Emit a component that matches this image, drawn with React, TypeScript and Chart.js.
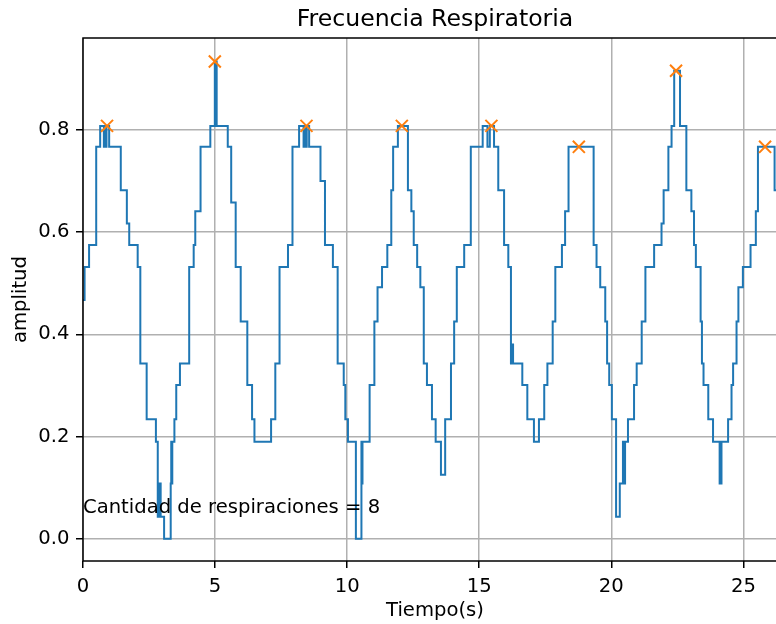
import { useEffect, useRef } from 'react';
import { Chart, registerables } from 'chart.js';

Chart.register(...registerables);

// Señal (tiempo en s, amplitud) — inicio de cada escalón
const tiempo = [
  0.00, 0.06, 0.23, 0.50, 0.65, 0.79, 0.82, 0.87, 0.89, 0.99,
  1.43, 1.66, 1.75, 2.07, 2.17, 2.41, 2.76, 2.83, 2.88, 2.90,
  2.92, 2.94, 3.07, 3.32, 3.34, 3.36, 3.38, 3.46, 3.53, 3.67,
  4.02, 4.19, 4.25, 4.45, 4.82, 4.99, 5.06, 5.48, 5.61, 5.78,
  5.97, 6.22, 6.40, 6.49, 7.12, 7.28, 7.44, 7.76, 7.93, 8.18,
  8.35, 8.39, 8.44, 8.47, 8.56, 8.99, 9.16, 9.46, 9.64, 9.87,
  9.93, 10.03, 10.33, 10.54, 10.56, 10.58, 10.85, 11.03, 11.15, 11.32,
  11.52, 11.67, 11.74, 11.92, 12.30, 12.43, 12.52, 12.65, 12.77, 12.90,
  13.02, 13.21, 13.35, 13.55, 13.71, 13.93, 14.05, 14.15, 14.43, 14.68,
  15.13, 15.31, 15.40, 15.56, 15.72, 15.94, 16.10, 16.20, 16.26, 16.28,
  16.63, 16.82, 17.07, 17.26, 17.46, 17.58, 17.78, 17.88, 18.13, 18.25,
  18.38, 19.33, 19.44, 19.58, 19.77, 19.84, 19.92, 20.02, 20.18, 20.32,
  20.44, 20.46, 20.52, 20.63, 20.86, 20.96, 21.15, 21.29, 21.62, 21.90,
  21.98, 22.16, 22.28, 22.38, 22.60, 22.84, 23.03, 23.13, 23.20, 23.38,
  23.43, 23.49, 23.67, 23.85, 24.10, 24.17, 24.42, 24.55, 24.61, 24.74,
  24.81, 24.98, 25.27, 25.47, 25.55, 26.18, 26.30,
];

const amplitud = [
  0.467, 0.532, 0.575, 0.767, 0.808, 0.767, 0.808, 0.767, 0.808, 0.767,
  0.682, 0.617, 0.575, 0.532, 0.343, 0.234, 0.190, 0.043, 0.108, 0.043,
  0.108, 0.043, 0.000, 0.108, 0.190, 0.108, 0.190, 0.234, 0.301, 0.343,
  0.532, 0.575, 0.641, 0.767, 0.808, 0.934, 0.808, 0.767, 0.658, 0.532,
  0.425, 0.301, 0.234, 0.190, 0.234, 0.343, 0.532, 0.575, 0.767, 0.808,
  0.767, 0.808, 0.767, 0.808, 0.767, 0.700, 0.575, 0.532, 0.343, 0.301,
  0.234, 0.190, 0.000, 0.190, 0.108, 0.190, 0.301, 0.425, 0.492, 0.532,
  0.575, 0.682, 0.767, 0.808, 0.682, 0.641, 0.575, 0.532, 0.492, 0.343,
  0.301, 0.234, 0.190, 0.125, 0.234, 0.343, 0.425, 0.532, 0.575, 0.767,
  0.808, 0.767, 0.808, 0.767, 0.682, 0.575, 0.532, 0.343, 0.380, 0.343,
  0.301, 0.234, 0.190, 0.234, 0.301, 0.343, 0.425, 0.532, 0.575, 0.641,
  0.767, 0.575, 0.532, 0.492, 0.425, 0.343, 0.301, 0.234, 0.043, 0.108,
  0.190, 0.108, 0.190, 0.234, 0.301, 0.343, 0.425, 0.532, 0.575, 0.617,
  0.682, 0.767, 0.808, 0.916, 0.808, 0.682, 0.641, 0.575, 0.532, 0.425,
  0.343, 0.301, 0.234, 0.190, 0.108, 0.190, 0.234, 0.301, 0.343, 0.425,
  0.492, 0.532, 0.575, 0.641, 0.767, 0.682, 0.682,
];

// Picos detectados
const picosT = [0.91, 4.99, 8.46, 12.07, 15.46, 18.77, 22.45, 25.82];
const picosA = [0.808, 0.934, 0.808, 0.808, 0.808, 0.767, 0.916, 0.767];

const xTicks = [0, 5, 10, 15, 20, 25];
const yTicks = [0, 0.2, 0.4, 0.6, 0.8];
const xRange = [0, 26.65];
const yRange = [-0.0436, 0.98];

const titulo = 'Frecuencia Respiratoria';
const etiquetaX = 'Tiempo(s)';
const etiquetaY = 'amplitud';
const nota = 'Cantidad de respiraciones = 8';
const notaX = 0;
const notaY = 0.05;

const FONT = '"DejaVu Sans", sans-serif';
const FS = 19.6;
const FT = 23.6;

export default function App() {
  const ref = useRef<HTMLCanvasElement | null>(null);

  useEffect(() => {
    if (!ref.current) return;

    const framePlugin = {
      id: 'frame',
      afterDatasetsDraw(chart: any) {
        const { ctx, chartArea, scales } = chart;
        ctx.save();
        ctx.fillStyle = '#000';
        ctx.font = `${FS}px ${FONT}`;
        ctx.textAlign = 'left';
        ctx.textBaseline = 'alphabetic';
        ctx.fillText(nota, scales.x.getPixelForValue(notaX), scales.y.getPixelForValue(notaY));
        ctx.strokeStyle = '#000';
        ctx.lineWidth = 1.5;
        ctx.strokeRect(chartArea.left, chartArea.top, chartArea.right - chartArea.left, chartArea.bottom - chartArea.top);
        ctx.restore();
      },
    };

    const chart = new Chart(ref.current, {
      type: 'line',
      data: {
        datasets: [
          {
            label: 'picos',
            data: picosT.map((t, i) => ({ x: t, y: picosA[i] })),
            showLine: false,
            pointStyle: 'crossRot',
            pointRadius: 8.5,
            pointBorderWidth: 2,
            borderColor: '#ff7f0e',
            backgroundColor: '#ff7f0e',
          },
          {
            label: 'señal',
            data: tiempo.map((t, i) => ({ x: t, y: amplitud[i] })),
            stepped: true,
            borderColor: '#1f77b4',
            borderWidth: 2,
            pointRadius: 0,
            fill: false,
          },
        ],
      },
      options: {
        responsive: false,
        animation: false,
        devicePixelRatio: 1,
        layout: { autoPadding: false, padding: { left: 0, right: 3, top: 0, bottom: 0 } },
        plugins: {
          legend: { display: false },
          tooltip: { enabled: false },
          title: {
            display: true,
            text: titulo,
            color: '#000',
            fullSize: false,
            font: { family: FONT, size: FT, weight: 'normal' },
            padding: { top: 6, bottom: 38 - 6 - FT * 1.2 },
          },
        },
        scales: {
          x: {
            type: 'linear',
            min: xRange[0],
            max: xRange[1],
            afterBuildTicks: (s: any) => {
              s.ticks = xTicks.map((v) => ({ value: v }));
            },
            afterFit: (s: any) => {
              s.height = 63;
              s.paddingLeft = 0;
              s.paddingRight = 0;
            },
            ticks: {
              color: '#000',
              font: { family: FONT, size: FS },
              padding: 7,
              maxRotation: 0,
              autoSkip: false,
              callback: (v: any) => String(v),
            },
            grid: { color: '#b0b0b0', lineWidth: 1.5, tickColor: '#000', tickLength: 7, tickWidth: 1.5 },
            border: { display: false },
            title: {
              display: true,
              text: etiquetaX,
              color: '#000',
              font: { family: FONT, size: FS },
              padding: { top: 0, bottom: 1.5 },
            },
          },
          y: {
            type: 'linear',
            min: yRange[0],
            max: yRange[1],
            afterBuildTicks: (s: any) => {
              s.ticks = yTicks.map((v) => ({ value: v }));
            },
            afterFit: (s: any) => {
              s.width = 83;
              s.paddingTop = 0;
              s.paddingBottom = 0;
            },
            ticks: {
              color: '#000',
              font: { family: FONT, size: FS },
              padding: 6.5,
              autoSkip: false,
              callback: (v: any) => Number(v).toFixed(1),
            },
            grid: { color: '#b0b0b0', lineWidth: 1.5, tickColor: '#000', tickLength: 7, tickWidth: 1.5 },
            border: { display: false },
            title: {
              display: true,
              text: etiquetaY,
              color: '#000',
              font: { family: FONT, size: FS },
              padding: { top: 9, bottom: 0 },
            },
          },
        },
      },
      plugins: [framePlugin],
    });

    return () => chart.destroy();
  }, []);

  return (
    <div style={{ position: 'absolute', left: 0, top: 0, width: 776, height: 624, overflow: 'hidden', background: '#fff' }}>
      <canvas ref={ref} width={790} height={624} style={{ display: 'block' }} />
    </div>
  );
}
